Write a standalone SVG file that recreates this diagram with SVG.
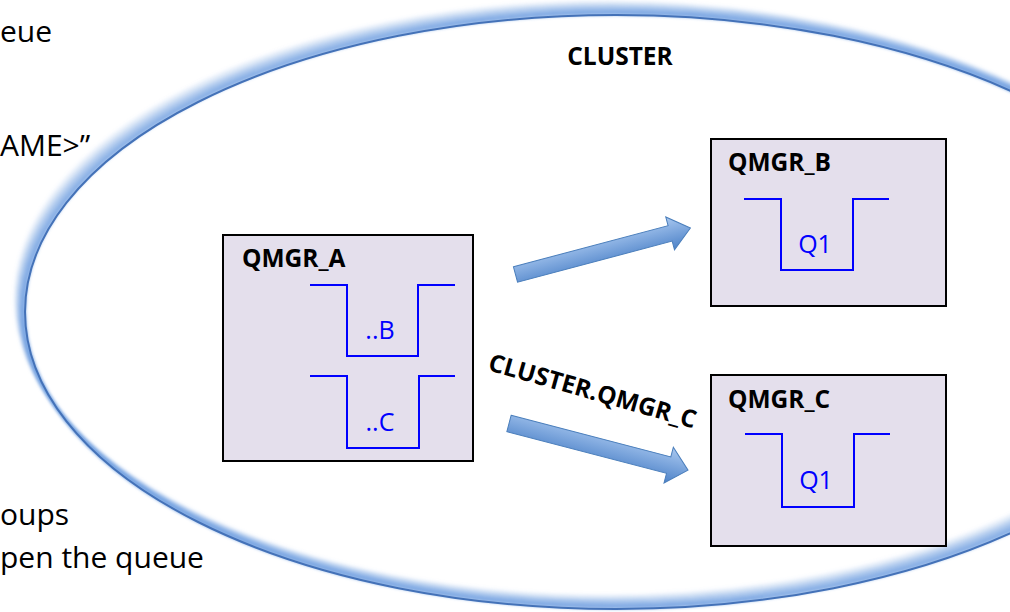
<svg xmlns="http://www.w3.org/2000/svg" width="1010" height="612" viewBox="0 0 1010 612">
<style>
.side{font-family:"Open Sans","Liberation Sans",sans-serif;font-size:30px;fill:#000}
.box{fill:#e4dfec;stroke:#000;stroke-width:2}
.lbl{font-family:"Open Sans","Liberation Sans",sans-serif;font-weight:700;font-size:24.5px;fill:#000}
.q{fill:none;stroke:#0000ff;stroke-width:2}
.qt{font-family:"Open Sans","Liberation Sans",sans-serif;font-size:25px;fill:#0000ff;text-anchor:middle}
.band{fill:none;stroke:#6f9fe0;stroke-width:4}
.arrow{fill:url(#ag);stroke:#4a7ebb;stroke-width:1}
</style>
<defs>
<ellipse id="ring" cx="616" cy="312" rx="591" ry="297"/>
<filter id="soft" x="-10%" y="-10%" width="120%" height="120%"><feGaussianBlur stdDeviation="1.8"/></filter>
<linearGradient id="ag" x1="0" y1="0" x2="0" y2="1">
<stop offset="0" stop-color="#a9c8f0"/>
<stop offset="1" stop-color="#4d82c8"/>
</linearGradient>
</defs>
<rect width="1010" height="612" fill="#fff"/>
<g id="side-text">
<text class="side" x="0" y="42">eue</text>
<text class="side" x="0" y="156">AME&gt;”</text>
<text class="side" x="0" y="525">oups</text>
<text class="side" x="0" y="568">pen the queue</text>
</g>
<g id="cluster">
<g filter="url(#soft)">
<use href="#ring" class="band" opacity="0.75" transform="translate(-1,-1.5)"/>
<use href="#ring" class="band" opacity="0.6" transform="translate(-2.5,-3.5)"/>
<use href="#ring" class="band" opacity="0.48" transform="translate(-4,-5.5)"/>
<use href="#ring" class="band" opacity="0.36" transform="translate(-5.5,-7.5)"/>
<use href="#ring" class="band" opacity="0.25" transform="translate(-7,-9.5)"/>
<use href="#ring" class="band" opacity="0.15" transform="translate(-8.5,-11.5)"/>
<use href="#ring" class="band" opacity="0.07" transform="translate(-10,-13.5)"/>
</g>
<use href="#ring" fill="none" stroke="#4472b8" stroke-width="2"/>
<text class="lbl" x="620" y="65" text-anchor="middle">CLUSTER</text>
</g>
<g id="qmgr_a">
<rect class="box" x="223" y="235" width="250" height="226"/>
<text class="lbl" x="242" y="267">QMGR_A</text>
<polyline class="q" points="310,285 347,285 347,356 418,356 418,285 455,285"/>
<text class="qt" x="380" y="339">..B</text>
<polyline class="q" points="310,376 347,376 347,448 419,448 419,376 455,376"/>
<text class="qt" x="380" y="431">..C</text>
</g>
<g id="qmgr_b">
<rect class="box" x="711" y="139" width="235" height="167"/>
<text class="lbl" x="728" y="171">QMGR_B</text>
<polyline class="q" points="744,199 781,199 781,270 853,270 853,199 889,199"/>
<text class="qt" x="815" y="253">Q1</text>
</g>
<g id="qmgr_c">
<rect class="box" x="711" y="375" width="235" height="171"/>
<text class="lbl" x="728" y="408">QMGR_C</text>
<polyline class="q" points="745,434 782,434 782,507 854,507 854,434 890,434"/>
<text class="qt" x="816" y="489">Q1</text>
</g>
<g id="connectors">
<path class="arrow" transform="translate(515.5,274.5) rotate(-14.9)" d="M0,-8 L160,-8 L160,-17 L181,0 L160,17 L160,8 L0,8 Z"/>
<path class="arrow" transform="translate(509,423.5) rotate(14.6)" d="M0,-8.5 L165,-8.5 L165,-18.5 L185,0 L165,18.5 L165,8.5 L0,8.5 Z"/>
<text class="lbl" x="487" y="370" transform="rotate(15.8 487 370)">CLUSTER.QMGR_C</text>
</g>
</svg>
